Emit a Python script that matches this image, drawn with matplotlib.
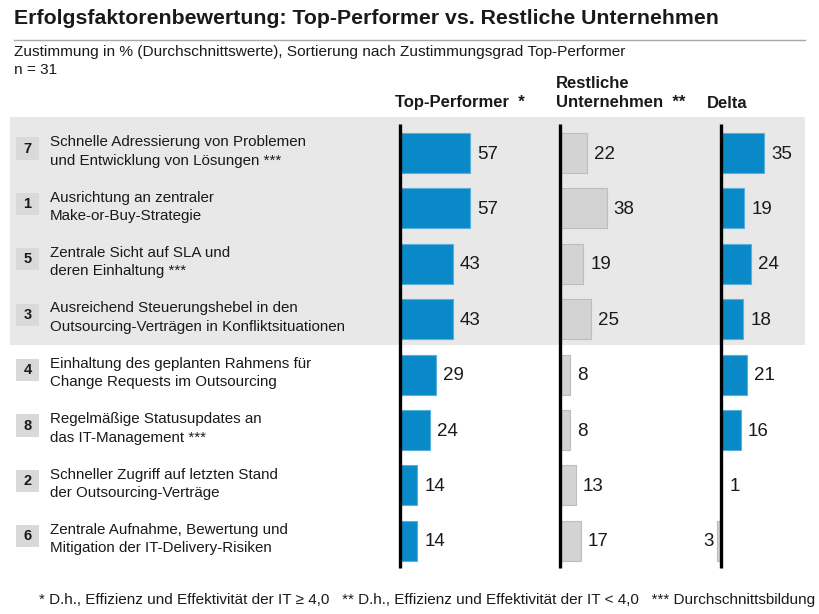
import matplotlib
matplotlib.use("Agg")
import matplotlib.pyplot as plt
from matplotlib.patches import Rectangle

plt.rcParams['font.family'] = ['Liberation Sans', 'DejaVu Sans']

# data (Sortierung nach Top-Performer)
nummern = ['7', '1', '5', '3', '4', '8', '2', '6']
faktoren = [
    'Schnelle Adressierung von Problemen\nund Entwicklung von Lösungen ***',
    'Ausrichtung an zentraler\nMake-or-Buy-Strategie',
    'Zentrale Sicht auf SLA und\nderen Einhaltung ***',
    'Ausreichend Steuerungshebel in den\nOutsourcing-Verträgen in Konfliktsituationen',
    'Einhaltung des geplanten Rahmens für\nChange Requests im Outsourcing',
    'Regelmäßige Statusupdates an\ndas IT-Management ***',
    'Schneller Zugriff auf letzten Stand\nder Outsourcing-Verträge',
    'Zentrale Aufnahme, Bewertung und\nMitigation der IT-Delivery-Risiken',
]
top_performer = [57, 57, 43, 43, 29, 24, 14, 14]
restliche = [22, 38, 19, 25, 8, 8, 13, 17]
delta = [35, 19, 24, 18, 21, 16, 1, -3]

BLAU = '#0989C8'
GRAU = '#D3D3D3'
BAND = '#E8E8E8'
TXT = '#1a1a1a'

W, H = 820, 614
fig = plt.figure(figsize=(W / 100, H / 100), dpi=100)

# rows: center of first row at 153 px, step 55.4 px
Y0, DY = 153, 55.4
def r(py):
    return (py - Y0) / DY
ylim = (r(H), r(0))
PXU = 1.23  # px per percentage point

bg = fig.add_axes([0, 0, 1, 1])
bg.set_xlim(0, W)
bg.set_ylim(*ylim)
bg.axis('off')

# grey band behind first four rows
bg.add_patch(Rectangle((10, r(117)), 795, r(345) - r(117), color=BAND, lw=0, zorder=0))

n = len(faktoren)
for i in range(n):
    bg.add_patch(Rectangle((16, i - 0.08 - 0.2), 23, 0.4, color='#D9D9D9', lw=0, zorder=1))
    bg.text(27.5, i - 0.08, nummern[i], ha='center', va='center', fontsize=10.5,
            fontweight='bold', color=TXT, zorder=2)
    bg.text(50, i - 0.03, faktoren[i], ha='left', va='center', fontsize=10.9,
            color=TXT, linespacing=1.4, zorder=2)

def spalte(x0, xmin, xmax, werte, farben):
    left = x0 + xmin * PXU
    width = (xmax - xmin) * PXU
    ax = fig.add_axes([left / W, 0, width / W, 1])
    ax.set_xlim(xmin, xmax)
    ax.set_ylim(*ylim)
    ax.axis('off')
    ax.patch.set_alpha(0)
    ax.barh(range(n), werte, height=0.72, color=farben,
            edgecolor=[('#5AB0DC' if f == BLAU else '#BDBDBD') for f in farben],
            lw=0.8, zorder=2)
    ax.vlines(0, r(124), r(568), color='black', lw=2.4, zorder=3)
    for i, v in enumerate(werte):
        if v >= 0:
            ax.text(v + 7 / PXU, i + 0.02, str(v), ha='left', va='center',
                    fontsize=13.5, color=TXT)
        else:
            ax.text(v - 4 / PXU, i + 0.02, str(abs(v)), ha='right', va='center',
                    fontsize=13.5, color=TXT)
    return ax

spalte(400, -10, 110, top_performer, [BLAU] * n)
spalte(560, -10, 110, restliche, [GRAU] * n)
spalte(721, -10, 75, delta, [BLAU if d > 1 else GRAU for d in delta])

# title and headers
fig.text(14 / W, 1 - 18 / H, 'Erfolgsfaktorenbewertung: Top-Performer vs. Restliche Unternehmen',
         ha='left', va='center', fontsize=15.3, fontweight='bold', color=TXT)
bg.plot([14, 805], [r(40), r(40)], color='#A8A8A8', lw=1)
fig.text(14 / W, 1 - 52 / H, 'Zustimmung in % (Durchschnittswerte), Sortierung nach Zustimmungsgrad Top-Performer',
         ha='left', va='center', fontsize=11.1, color=TXT)
fig.text(14 / W, 1 - 70 / H, 'n = 31', ha='left', va='center', fontsize=11.1, color=TXT)

fig.text(395 / W, 1 - 103 / H, 'Top-Performer  *', ha='left', va='center',
         fontsize=12, fontweight='bold', color=TXT)
fig.text(556 / W, 1 - 93 / H, 'Restliche\nUnternehmen  **', ha='left', va='center',
         fontsize=12, fontweight='bold', color=TXT, linespacing=1.3)
fig.text(707 / W, 1 - 103 / H, 'Delta', ha='left', va='center',
         fontsize=12, fontweight='bold', color=TXT)

fig.text(815 / W, 1 - 600 / H,
         '* D.h., Effizienz und Effektivität der IT \u2265 4,0   ** D.h., Effizienz und Effektivität der IT < 4,0   *** Durchschnittsbildung',
         ha='right', va='center', fontsize=11, color=TXT)

fig.savefig('out.png', dpi=100)
